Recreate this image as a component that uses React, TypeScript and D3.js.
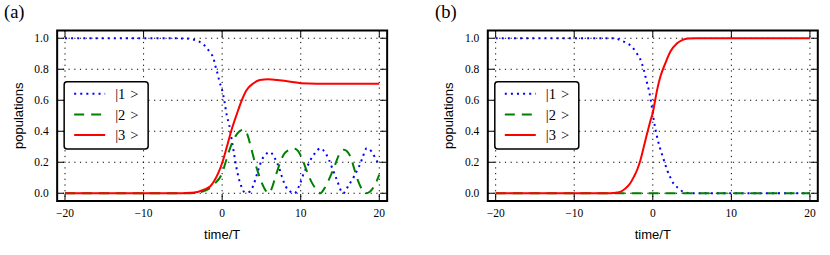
import React from "react";
import * as d3 from "d3";

// ---------- data ----------
const xTicks = [-20, -10, 0, 10, 20];
const yTicks = [0, 0.2, 0.4, 0.6, 0.8, 1.0];
const legendLabels = ["1", "2", "3"];
const panelTitles = ["(a)", "(b)"];

// Panel (a)
const blueAX = [-20, -10, -5, -4, -3, -2.5, -2, -1.5, -1.1, -0.9, -0.6, -0.34, 0, 0.3, 0.6, 0.9, 1.2, 1.5, 1.8, 2.1, 2.4, 2.9, 3.5, 4.0, 4.4, 4.8, 5.3, 6.1, 6.7, 7.2, 7.6, 8.1, 8.7, 9.2, 9.9, 10.4, 11.0, 11.5, 12.0, 12.5, 13.0, 13.6, 14.1, 14.6, 15.4, 16.0, 16.8, 17.4, 17.8, 18.4, 19.0, 19.5, 20];
const blueAY = [1.0, 1.0, 0.999, 0.995, 0.98, 0.965, 0.94, 0.905, 0.871, 0.828, 0.774, 0.72, 0.665, 0.59, 0.5, 0.44, 0.35, 0.26, 0.17, 0.1, 0.05, 0.006, 0.01, 0.054, 0.118, 0.183, 0.237, 0.265, 0.226, 0.172, 0.108, 0.043, 0.01, 0.0, 0.06, 0.13, 0.19, 0.237, 0.27, 0.29, 0.27, 0.215, 0.15, 0.086, 0.0, 0.043, 0.11, 0.17, 0.22, 0.29, 0.27, 0.226, 0.18];

const greenAX = [-20, -4, -3, -2, -1, 0, 0.5, 1, 1.5, 2, 2.7, 3.2, 3.6, 4.0, 4.6, 5.1, 5.5, 5.9, 6.3, 6.8, 7.4, 7.9, 8.5, 9.1, 9.7, 10.2, 10.8, 11.4, 11.9, 12.5, 13.0, 13.6, 14.2, 14.9, 15.5, 16.3, 16.8, 17.3, 17.8, 18.3, 18.8, 19.4, 20];
const greenAY = [0, 0, 0.005, 0.02, 0.06, 0.13, 0.21, 0.29, 0.35, 0.39, 0.41, 0.38, 0.31, 0.23, 0.13, 0.06, 0.02, 0.0, 0.03, 0.11, 0.2, 0.255, 0.28, 0.29, 0.27, 0.22, 0.14, 0.07, 0.03, 0.0, 0.03, 0.09, 0.16, 0.25, 0.28, 0.24, 0.16, 0.08, 0.025, 0.0, 0.01, 0.05, 0.12];

const redAX = [-20, -5, -4, -3, -2.5, -2, -1.5, -1, -0.5, 0, 0.6, 1.2, 1.9, 2.5, 3.1, 4.0, 4.8, 5.9, 7.0, 8.7, 10, 12, 15, 20];
const redAY = [0, 0, 0.003, 0.01, 0.02, 0.03, 0.045, 0.08, 0.13, 0.195, 0.3, 0.41, 0.516, 0.6, 0.665, 0.71, 0.73, 0.735, 0.73, 0.72, 0.71, 0.707, 0.707, 0.707];

// Panel (b)
const blueBX = [-20, -5, -4.5, -4, -3.3, -2.6, -2.1, -1.65, -1.36, -1.14, -0.93, -0.72, -0.5, -0.29, -0.08, 0.13, 0.47, 0.89, 1.4, 1.82, 2.25, 2.67, 3.3, 3.94, 5, 20];
const blueBY = [1.0, 1.0, 0.995, 0.985, 0.968, 0.942, 0.907, 0.871, 0.832, 0.796, 0.752, 0.71, 0.665, 0.61, 0.545, 0.47, 0.38, 0.296, 0.215, 0.15, 0.1, 0.06, 0.032, 0.007, 0, 0];

const greenBX = [-20, -10, 0, 10, 20];
const greenBY = [0, 0, 0, 0, 0];

const redBX = [-20, -5.5, -4.5, -4, -3.5, -3, -2.4, -2, -1.57, -0.93, -0.29, 0, 0.3, 0.55, 0.97, 1.6, 2.24, 3.09, 3.8, 4.5, 5.5, 20];
const redBY = [0, 0, 0.005, 0.012, 0.03, 0.055, 0.107, 0.15, 0.215, 0.344, 0.47, 0.52, 0.6, 0.667, 0.753, 0.839, 0.914, 0.968, 0.99, 0.998, 1.0, 1.0];

const zip = (xs: number[], ys: number[]) => xs.map((x, i) => [x, ys[i]] as [number, number]);

const panelsData = [
  { blue: zip(blueAX, blueAY), green: zip(greenAX, greenAY), red: zip(redAX, redAY) },
  { blue: zip(blueBX, blueBY), green: zip(greenBX, greenBY), red: zip(redBX, redBY) },
];

// ---------- layout ----------
const W = 830, H = 255;
const plotW = 330;
const top = 30.5, bottom = 201;
const lefts = [57.15, 487.8];
const titleX = [4, 435];

const serif = "'Liberation Serif', 'DejaVu Serif', serif";
const sans = "'Liberation Sans', Arial, sans-serif";

const styles = {
  blue: { stroke: "#0000ff", dash: "2 4.1" },
  green: { stroke: "#008000", dash: "10 7" },
  red: { stroke: "#ff0000", dash: undefined as string | undefined },
};

function Panel({ idx }: { idx: number }) {
  const left = lefts[idx];
  const x = d3.scaleLinear().domain([-21, 21]).range([left, left + plotW]);
  const y = d3.scaleLinear().domain([-0.05, 1.05]).range([bottom, top]);
  const line = d3
    .line<[number, number]>()
    .x((d) => x(d[0]))
    .y((d) => y(d[1]))
    .curve(d3.curveMonotoneX);
  const data = panelsData[idx];
  const clipId = `clip${idx}`;
  const tickLen = 7;
  const legX = left + 7, legY = 81.7, legW = 84, legH = 67.3;
  const rowYs = [93.7, 114.5, 135];
  const keys: ("blue" | "green" | "red")[] = ["blue", "green", "red"];
  return (
    <g>
      <defs>
        <clipPath id={clipId}>
          <rect x={left} y={top} width={plotW} height={bottom - top} />
        </clipPath>
      </defs>
      <text x={titleX[idx]} y={17.5} fontFamily={serif} fontSize={18.5}>
        {panelTitles[idx]}
      </text>
      {/* grid */}
      <g stroke="#000" strokeWidth={1} strokeDasharray="1.2 4.5">
        {xTicks.map((t) => (
          <line key={"gx" + t} x1={x(t)} x2={x(t)} y1={top} y2={bottom} />
        ))}
        {yTicks.map((t) => (
          <line key={"gy" + t} x1={left} x2={left + plotW} y1={y(t)} y2={y(t)} />
        ))}
      </g>
      {/* lines */}
      <g clipPath={`url(#${clipId})`} fill="none" strokeWidth={2}>
        {keys.map((k) => (
          <path
            key={k}
            d={line(data[k]) || ""}
            stroke={styles[k].stroke}
            strokeDasharray={styles[k].dash}
            strokeLinecap="butt"
          />
        ))}
      </g>
      {/* ticks */}
      <g stroke="#000" strokeWidth={1}>
        {xTicks.map((t) => (
          <g key={"tx" + t}>
            <line x1={x(t)} x2={x(t)} y1={bottom} y2={bottom - tickLen} />
            <line x1={x(t)} x2={x(t)} y1={top} y2={top + tickLen} />
          </g>
        ))}
        {yTicks.map((t) => (
          <g key={"ty" + t}>
            <line x1={left} x2={left + tickLen} y1={y(t)} y2={y(t)} />
            <line x1={left + plotW} x2={left + plotW - tickLen} y1={y(t)} y2={y(t)} />
          </g>
        ))}
      </g>
      <rect x={left} y={top} width={plotW} height={bottom - top} fill="none" stroke="#000" strokeWidth={2} />
      {/* tick labels */}
      <g fontFamily={serif} fontSize={11.5} fill="#000">
        {xTicks.map((t) => (
          <text key={"lx" + t} x={x(t)} y={217} textAnchor="middle">
            {t < 0 ? "\u2212" + Math.abs(t) : String(t)}
          </text>
        ))}
        {yTicks.map((t) => (
          <text key={"ly" + t} x={left - 8.5} y={y(t) + 4} textAnchor="end">
            {t.toFixed(1)}
          </text>
        ))}
      </g>
      {/* axis labels */}
      <text x={left + plotW / 2} y={239} textAnchor="middle" fontFamily={sans} fontSize={13}>
        time/T
      </text>
      <text
        transform={`translate(${left - 34.5},${(top + bottom) / 2}) rotate(-90)`}
        textAnchor="middle"
        fontFamily={sans}
        fontSize={13}
      >
        populations
      </text>
      {/* legend */}
      <rect x={legX} y={legY} width={legW} height={legH} rx={3} ry={3} fill="#fff" stroke="#000" strokeWidth={1.5} />
      {keys.map((k, i) => (
        <g key={"leg" + k}>
          <line
            x1={legX + 10}
            x2={legX + 41}
            y1={rowYs[i]}
            y2={rowYs[i]}
            stroke={styles[k].stroke}
            strokeWidth={2}
            strokeDasharray={styles[k].dash}
          />
          <text x={legX + 51} y={rowYs[i] + 5} fontFamily={serif} fontSize={14.5}>
            {"|" + legendLabels[i]}
            <tspan dx={5}>{">"}</tspan>
          </text>
        </g>
      ))}
    </g>
  );
}

export default function App() {
  return (
    <svg
      width={W}
      height={H}
      viewBox={`0 0 ${W} ${H}`}
      style={{ position: "absolute", left: 0, top: 0, background: "#fff" }}
    >
      <rect x={0} y={0} width={W} height={H} fill="#fff" />
      <Panel idx={0} />
      <Panel idx={1} />
    </svg>
  );
}
